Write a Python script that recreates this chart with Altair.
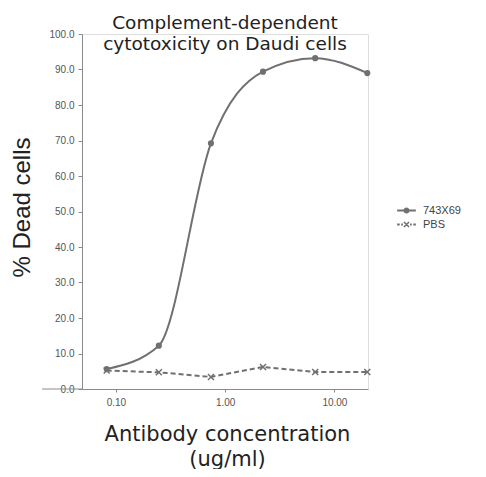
import altair as alt
import pandas as pd

# ---- data ----
concentration = [0.0823, 0.247, 0.741, 2.22, 6.67, 20.0]
ab_743x69 = [5.6, 12.2, 69.2, 89.4, 93.2, 89.0]
pbs = [5.2, 4.7, 3.4, 6.2, 4.8, 4.8]
series_names = ["743X69", "PBS"]
x_ticks = [0.1, 1.0, 10.0]
y_ticks = [0, 10, 20, 30, 40, 50, 60, 70, 80, 90, 100]

rows = []
for c, v in zip(concentration, ab_743x69):
    rows.append({"conc": c, "v": v, "series": series_names[0]})
for c, v in zip(concentration, pbs):
    rows.append({"conc": c, "v": v, "series": series_names[1]})
df = pd.DataFrame(rows)

GRAY = "#707070"
AXIS = "#8a8a8a"
W, H = 286, 355

x = alt.X("conc:Q", scale=alt.Scale(type="log", domain=[0.0489, 20.3], nice=False),
          axis=alt.Axis(values=x_ticks, format=".2f", grid=False, tickSize=3,
                        labelPadding=5, labelFont="Liberation Sans", labelFontSize=10,
                        labelColor="#555", domainColor=AXIS, tickColor=AXIS,
                        labelFlush=False,
                        title=["Antibody concentration", "(ug/ml)"],
                        titleFont="DejaVu Sans", titleFontSize=21, titleFontWeight="normal",
                        titleColor="#222", titleLineHeight=25, titleBaseline="alphabetic",
                        titleX=145, titleY=51, titleAlign="center"))
y = alt.Y("v:Q", scale=alt.Scale(domain=[0, 100], nice=False),
          axis=alt.Axis(values=y_ticks, format=".1f", grid=False, tickSize=4,
                        labelPadding=4, labelFont="Liberation Sans", labelFontSize=10,
                        labelColor="#555", domainColor=AXIS, tickColor=AXIS,
                        labelFlush=False,
                        title="% Dead cells", titleFont="Liberation Sans", titleFontSize=24,
                        titleFontWeight="normal", titleColor="#222", titleAngle=270,
                        titleBaseline="middle", titleAlign="center",
                        titleX=-60, titleY=173))

base = alt.Chart(df)

line_ab = base.transform_filter(alt.datum.series == series_names[0]).mark_line(
    interpolate="monotone", color=GRAY, strokeWidth=2
).encode(x=x, y=y)

pts_ab = base.transform_filter(alt.datum.series == series_names[0]).mark_point(
    shape="circle", filled=True, color=GRAY, size=38, opacity=1
).encode(x=x, y=y)

line_pbs = base.transform_filter(alt.datum.series == series_names[1]).mark_line(
    color=GRAY, strokeWidth=2, strokeDash=[5, 3]
).encode(x=x, y=y)

X_PATH = "M-1,-1L1,1M-1,1L1,-1"
pts_pbs = base.transform_filter(alt.datum.series == series_names[1]).mark_point(
    shape=X_PATH, filled=False, color=GRAY, size=36, strokeWidth=1.5, opacity=1
).encode(x=x, y=y)

# legend symbols drawn as filled outlines (line + marker)
LEG_AB = ("M-1.1,-0.11H1.1V0.11H-1.1Z"
          "M-0.36,0A0.36,0.36 0 1,1 0.36,0A0.36,0.36 0 1,1 -0.36,0Z")
LEG_PBS = ("M-1.1,-0.11H-0.8V0.11H-1.1Z"
           "M-0.62,-0.11H-0.42V0.11H-0.62Z"
           "M0.42,-0.11H0.62V0.11H0.42Z"
           "M0.8,-0.11H1.1V0.11H0.8Z"
           "M-0.236,-0.364L0.364,0.236L0.236,0.364L-0.364,-0.236Z"
           "M0.236,-0.364L0.364,-0.236L-0.236,0.364L-0.364,0.236Z")
legend_layer = base.transform_filter("datum.v < -1000").mark_point(
    filled=True, color=GRAY, opacity=1
).encode(
    x=x, y=y,
    shape=alt.Shape("series:N",
                    scale=alt.Scale(domain=series_names, range=[LEG_AB, LEG_PBS]),
                    legend=alt.Legend(title=None, orient="none", legendX=316, legendY=168,
                                      symbolSize=289, symbolFillColor=GRAY,
                                      symbolStrokeWidth=0,
                                      symbolOpacity=1, rowPadding=0, labelOffset=8,
                                      labelFont="Liberation Sans", labelFontSize=11,
                                      labelColor="#444", padding=0))
)

ext = alt.Chart(pd.DataFrame({"a": [0]})).mark_rule(color=AXIS, strokeWidth=1).encode(
    x=alt.value(-40), x2=alt.value(0), y=alt.value(H)
)

chart = alt.layer(ext, line_pbs, line_ab, pts_pbs, pts_ab, legend_layer).properties(
    width=W, height=H,
    autosize=alt.AutoSizeParams(type="none"),
    padding={"left": 74, "top": 26, "right": 110, "bottom": 80},
    title=alt.TitleParams(text=["Complement-dependent", "cytotoxicity on Daudi cells"],
                          font="DejaVu Sans", fontSize=18.5, fontWeight="normal",
                          color="#222", anchor="middle", frame="group",
                          baseline="bottom", offset=0, dy=43, lineHeight=21),
).configure_view(stroke=None).configure(background="white")

chart.save("out.html", embed_options={"renderer": "svg", "actions": False})
